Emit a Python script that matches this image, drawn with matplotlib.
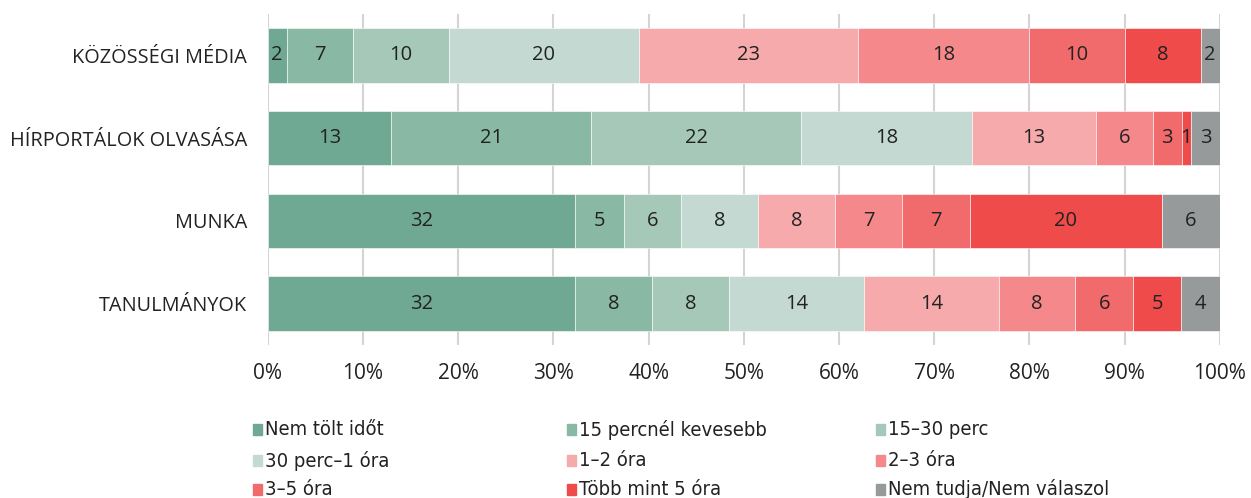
import numpy as np
import matplotlib.pyplot as plt
from matplotlib.patches import Rectangle

plt.rcParams['font.family'] = ['Open Sans', 'DejaVu Sans']

# ── Data ─────────────────────────────────────────────────────────────────────
categories = ["KÖZÖSSÉGI MÉDIA", "HÍRPORTÁLOK OLVASÁSA", "MUNKA", "TANULMÁNYOK"]
series_names = ["Nem tölt időt", "15 percnél kevesebb", "15–30 perc",
                "30 perc–1 óra", "1–2 óra", "2–3 óra",
                "3–5 óra", "Több mint 5 óra", "Nem tudja/Nem válaszol"]
kozossegi = [2, 7, 10, 20, 23, 18, 10, 8, 2]
hirportal = [13, 21, 22, 18, 13, 6, 3, 1, 3]
munka = [32, 5, 6, 8, 8, 7, 7, 20, 6]
tanulmany = [32, 8, 8, 14, 14, 8, 6, 5, 4]

colors = ["#6fa893", "#89b8a4", "#a6c8b9", "#c3d9d1", "#f7aaac",
          "#f4888a", "#f16b6d", "#ef4b4a", "#969a9b"]

values = np.array([kozossegi, hirportal, munka, tanulmany], dtype=float)
shares = values / values.sum(axis=1, keepdims=True) * 100

fig = plt.figure(figsize=(12.51, 4.98), dpi=100)
ax = fig.add_axes([0.214, 0.307, 0.761, 0.665])

y = np.arange(len(categories))
left = np.zeros(len(categories))
for j in range(len(series_names)):
    ax.barh(y, shares[:, j], left=left, height=0.66, color=colors[j],
            edgecolor="white", linewidth=0.4, zorder=3)
    for i in range(len(categories)):
        ax.text(left[i] + shares[i, j] / 2, y[i], f"{int(values[i, j])}",
                ha="center", va="center", fontsize=14.5, color="#222222", zorder=4)
    left += shares[:, j]

ax.set_xlim(0, 100)
ax.set_ylim(3.5, -0.5)
ax.set_yticks(y)
ax.set_yticklabels(categories, fontsize=14.3, color="#222222")
ax.set_xticks(np.arange(0, 101, 10))
ax.set_xticklabels([f"{v}%" for v in range(0, 101, 10)], fontsize=15, color="#222222")
ax.tick_params(length=0)
ax.tick_params(axis="y", pad=15)
ax.tick_params(axis="x", pad=13)
ax.grid(axis="x", color="#d4d4d4", linewidth=1.5, zorder=0)
for s in ax.spines.values():
    s.set_visible(False)

# ── Legend (row-wise, 3 columns) ────────────────────────────────────────────
col_x = [0.202, 0.453, 0.700]
row_y = [0.137, 0.075, 0.018]
for k, name in enumerate(series_names):
    r, c = divmod(k, 3)
    fig.add_artist(Rectangle((col_x[c], row_y[r] - 0.011), 0.0072, 0.022,
                             transform=fig.transFigure, color=colors[k]))
    fig.text(col_x[c] + 0.0095, row_y[r], name, ha="left", va="center",
             fontsize=14.5, color="#222222", family="DejaVu Sans",
             fontstretch="condensed")

fig.savefig("out.png", dpi=100, facecolor="white")
